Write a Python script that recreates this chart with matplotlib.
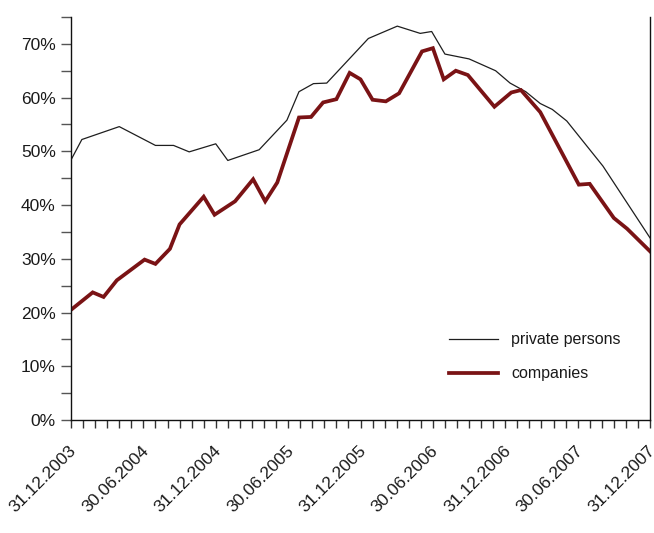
import matplotlib
matplotlib.use("Agg")
import matplotlib.pyplot as plt
from matplotlib.ticker import FixedLocator, FuncFormatter
import matplotlib.transforms as mtransforms

plt.rcParams['font.family'] = ['Liberation Sans', 'DejaVu Sans']

# months elapsed since 31.12.2003
private_months = [0, 0.9, 4.0, 7.0, 8.5, 9.8, 12.0, 13.0, 15.6, 17.9, 18.9, 20.1, 21.2,
                  24.65, 27.05, 28.95, 29.9, 31.0, 33.0, 35.2, 36.4, 37.7, 38.9, 39.9,
                  41.1, 44.1, 48.0]
private_values = [48.4, 52.2, 54.6, 51.1, 51.1, 49.9, 51.4, 48.3, 50.3, 55.8, 61.1, 62.6, 62.7,
                  71.0, 73.3, 71.95, 72.3, 68.1, 67.2, 65.0, 62.7, 61.1, 58.9, 57.8,
                  55.65, 47.25, 33.9]

company_months = [0, 1.8, 2.7, 3.8, 6.1, 7.0, 8.2, 9.0, 11.0, 11.9, 13.6, 15.1, 16.1, 17.1,
                  18.9, 19.9, 20.9, 22.0, 23.1, 24.0, 25.0, 26.1, 27.2, 29.1, 30.0, 30.9,
                  31.9, 32.9, 35.1, 36.5, 37.3, 38.9, 42.1, 43.0, 45.0, 46.1, 48.0]
company_values = [20.5, 23.75, 22.9, 26.0, 29.85, 29.05, 31.85, 36.4, 41.55, 38.2, 40.7, 44.8,
                  40.7, 44.2, 56.3, 56.4, 59.1, 59.7, 64.6, 63.4, 59.6, 59.3, 60.8, 68.6,
                  69.2, 63.4, 65.0, 64.2, 58.3, 60.95, 61.4, 57.3, 43.8, 43.95, 37.6, 35.6,
                  31.4]

date_labels = ['31.12.2003', '30.06.2004', '31.12.2004', '30.06.2005', '31.12.2005',
               '30.06.2006', '31.12.2006', '30.06.2007', '31.12.2007']
series_names = ['private persons', 'companies']

fig = plt.figure(figsize=(6.54, 5.33), dpi=100)
ax = fig.add_axes([71/654, 1-420/533, (650-71)/654, (420-17)/533])

ax.plot(private_months, private_values, color='#1e1e1e', lw=0.9, label=series_names[0])
ax.plot(company_months, company_values, color='#7a1315', lw=2.7, label=series_names[1],
        solid_joinstyle='miter')

ax.set_xlim(0, 48)
ax.set_ylim(0, 75)

ax.spines['top'].set_visible(False)
for s in ['left', 'right', 'bottom']:
    ax.spines[s].set_linewidth(1.0)
    ax.spines[s].set_color('#111111')

# y ticks
ax.yaxis.set_major_locator(FixedLocator(list(range(0, 80, 10))))
ax.yaxis.set_minor_locator(FixedLocator(list(range(5, 80, 10))))
ax.yaxis.set_major_formatter(FuncFormatter(lambda v, p: f"{int(v)}%"))
ax.tick_params(axis='y', which='both', direction='out', length=7.5, width=1.0,
               color='#555555', labelsize=12.5, pad=3.5, right=False, labelcolor='#1a1a1a')

# x ticks
ax.xaxis.set_major_locator(FixedLocator(list(range(0, 49, 6))))
ax.xaxis.set_minor_locator(FixedLocator([m for m in range(0, 49) if m % 6]))
ax.set_xticklabels(date_labels)
ax.tick_params(axis='x', which='both', direction='out', length=5.5, width=1.0,
               color='#333333', labelsize=12.5, pad=15, labelcolor='#1a1a1a')
offset = mtransforms.ScaledTranslation(3/100, 0, fig.dpi_scale_trans)
for lab in ax.get_xticklabels():
    lab.set_rotation(45)
    lab.set_ha('right')
    lab.set_va('center')
    lab.set_rotation_mode('anchor')
    lab.set_transform(lab.get_transform() + offset)

leg = ax.legend(loc='upper left', bbox_to_anchor=(0.653, 0.218), frameon=False,
                fontsize=11.5, handlelength=3.05, handletextpad=0.85, labelspacing=1.2,
                borderpad=0, borderaxespad=0)
for t in leg.get_texts():
    t.set_color('#1a1a1a')

fig.savefig('out.png', dpi=100)
